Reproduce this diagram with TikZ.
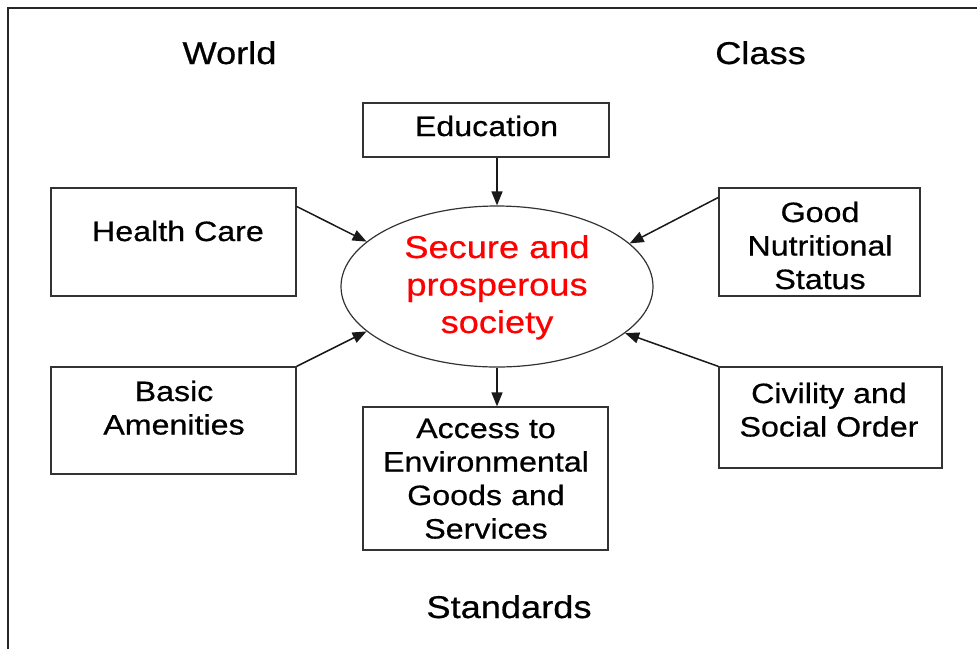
\documentclass[tikz,border=0pt]{standalone}
\usepackage{fontspec}
\setmainfont{Liberation Sans}[FakeStretch=1.15,FakeBold=0.6]
\usetikzlibrary{arrows.meta,calc,shapes.geometric}
\newcommand{\mlines}[1]{\begin{tabular}[t]{@{}c@{}}#1\end{tabular}}
\begin{document}
\begin{tikzpicture}[x=1pt,y=-1pt,
  box/.style={draw=black!80, line width=1.2pt, rectangle, inner sep=0pt},
  txt/.style={anchor=base, inner sep=0pt, font=\fontsize{28}{33.5}\selectfont},
  head/.style={anchor=base, inner sep=0pt, font=\fontsize{31.5}{36}\selectfont},
  arr/.style={-{Triangle[length=14pt,width=11pt]}, line width=1.5pt, draw=black!90},
]
\useasboundingbox (0,0) rectangle (977,649);
\draw[line width=1.8pt, black!85] (8,649) -- (8,8) -- (977,8);

% boxes
\node[box, minimum width=246pt, minimum height=54pt] (edu) at (486,130) {};
\node[box, minimum width=245pt, minimum height=108pt] (hc) at (173.5,242) {};
\node[box, minimum width=245pt, minimum height=107pt] (ba) at (173.5,420.5) {};
\node[box, minimum width=201pt, minimum height=108pt] (gns) at (819.5,242) {};
\node[box, minimum width=223pt, minimum height=101pt] (cso) at (830.5,417.5) {};
\node[box, minimum width=245pt, minimum height=143pt] (aeg) at (485.5,478.5) {};
\node[ellipse, draw=black!80, line width=1.2pt, minimum width=312pt, minimum height=161pt, inner sep=0pt] (ell) at (497,286.5) {};

% headings
\node[head] (tw) at (229.5,64) {World};
\node[head] (tc) at (760.5,64) {Class};
\node[head] (ts) at (509,618) {Standards};

% texts
\node[txt] (tedu) at (486.5,136) {Education};
\node[txt] (thc) at (178,241) {Health Care};
\node[txt] (tba) at (174,401) {\mlines{Basic\\Amenities}};
\node[txt] (tgns) at (820,222) {\mlines{Good\\Nutritional\\Status}};
\node[txt] (tcso) at (829,403) {\mlines{Civility and\\Social Order}};
\node[txt] (taeg) at (486,438) {\mlines{Access to\\Environmental\\Goods and\\Services}};
\node[txt, text=red, font=\fontsize{31.5}{37.5}\selectfont] (tell) at (497,258) {\mlines{Secure and\\prosperous\\society}};

% arrows
\draw[arr] (edu.south -| ell.north) -- (ell.north);
\draw[arr] ($(hc.north east)+(0,19)$) -- (ell.161.8);
\draw[arr] (ba.north east) -- (ell.199.1);
\draw[arr] ($(gns.north west)+(0,10)$) -- (ell.18.3);
\draw[arr] (cso.north west) -- (ell.340.9);
\draw[arr] (ell.south) -- (ell.south |- aeg.north);
\end{tikzpicture}
\end{document}
